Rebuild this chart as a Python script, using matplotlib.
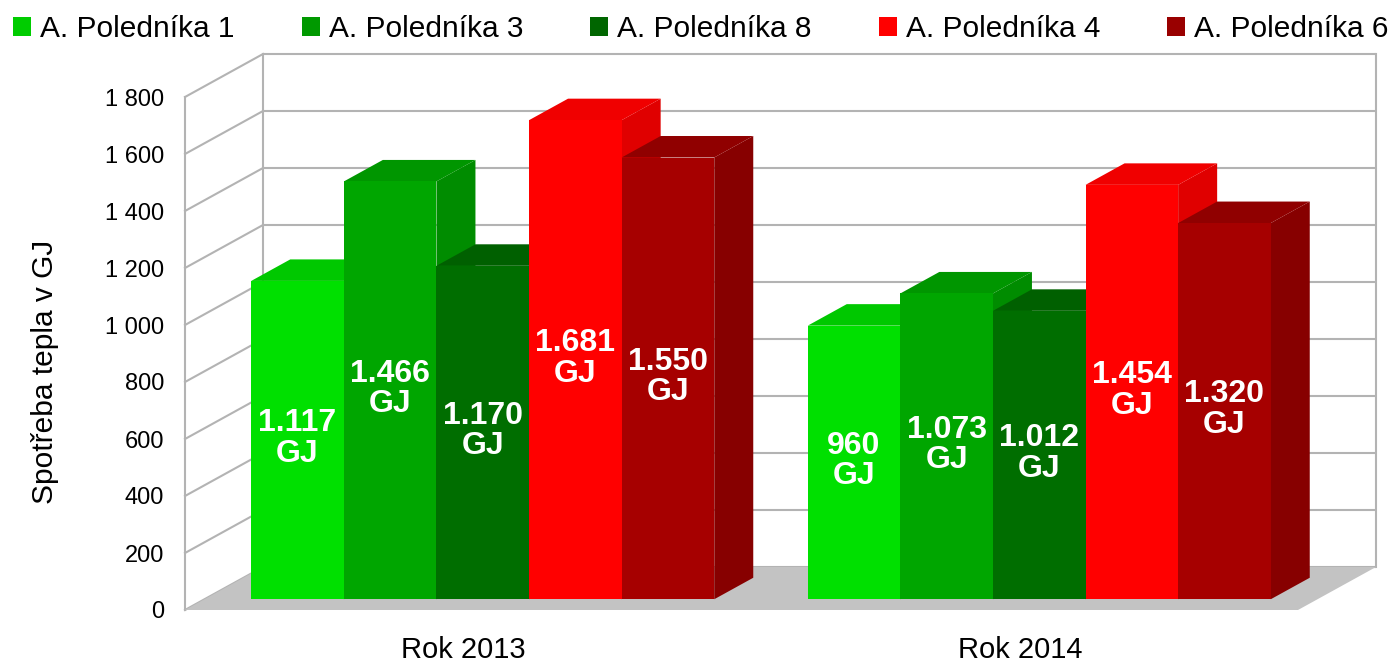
import matplotlib
matplotlib.use("Agg")
import matplotlib.pyplot as plt
from matplotlib.patches import Polygon, Patch

plt.rcParams['font.family'] = ['Liberation Sans', 'DejaVu Sans']

# ---- data ----
categories = ["Rok 2013", "Rok 2014"]
series_names = ["A. Poledníka 1", "A. Poledníka 3", "A. Poledníka 8",
                "A. Poledníka 4", "A. Poledníka 6"]
values_2013 = [1117, 1466, 1170, 1681, 1550]
values_2014 = [960, 1073, 1012, 1454, 1320]
value_labels_2013 = ["1.117\nGJ", "1.466\nGJ", "1.170\nGJ", "1.681\nGJ", "1.550\nGJ"]
value_labels_2014 = ["960\nGJ", "1.073\nGJ", "1.012\nGJ", "1.454\nGJ", "1.320\nGJ"]
y_ticks = [0, 200, 400, 600, 800, 1000, 1200, 1400, 1600, 1800]
y_label = "Spotřeba tepla v GJ"

# ---- styles ----
front_colors = ['#00e000', '#00a600', '#006e00', '#ff0000', '#a60000']
top_colors = ['#00c800', '#009600', '#006000', '#f00000', '#900000']
side_colors = ['#00b400', '#008c00', '#005800', '#e00000', '#870000']
legend_colors = ['#00cc00', '#009900', '#006600', '#ff0000', '#990000']
grid_color = '#b3b3b3'
floor_color = '#c3c3c3'

W, H = 1388, 664
fig = plt.figure(figsize=(W / 100, H / 100), dpi=100)
ax = fig.add_axes([185 / W, 54 / H, 1113 / W, 513 / H])
ymax = y_ticks[-1]
ax.set_xlim(0, len(categories))
ax.set_ylim(0, ymax)

# depth vector (full depth) in data units
px_per_x = 1113 / len(categories)
px_per_y = 513 / ymax
DX = 78 / px_per_x
DY = 43 / px_per_y
d0, d1 = 0.25, 0.75
n_series = len(series_names)
group_frac = 0.832
bw = group_frac / n_series
gap = (1 - group_frac) / 2
ncat = len(categories)

# floor
ax.add_patch(Polygon([(0, 0), (ncat, 0), (ncat + DX, DY), (DX, DY)],
                     closed=True, facecolor=floor_color, edgecolor='none',
                     clip_on=False, zorder=1))
# walls gridlines
for v in y_ticks:
    ax.plot([DX, ncat + DX], [v + DY, v + DY], color=grid_color, lw=1.5,
            clip_on=False, zorder=0.5, solid_capstyle='butt')
    ax.plot([0, DX], [v, v + DY], color=grid_color, lw=1.5,
            clip_on=False, zorder=0.5)
for xe, ye in [(0, 0), (DX, DY), (ncat + DX, DY)]:
    ax.plot([xe, xe], [ye, ye + ymax], color=grid_color, lw=1.5,
            clip_on=False, zorder=0.5)

# bars
all_vals = [values_2013, values_2014]
all_labels = [value_labels_2013, value_labels_2014]
z = 2
for ci, vals in enumerate(all_vals):
    for j, h in enumerate(vals):
        L = ci + gap + j * bw
        R = L + bw
        side = [(R + d0 * DX, d0 * DY), (R + d1 * DX, d1 * DY),
                (R + d1 * DX, h + d1 * DY), (R + d0 * DX, h + d0 * DY)]
        top = [(L + d0 * DX, h + d0 * DY), (R + d0 * DX, h + d0 * DY),
               (R + d1 * DX, h + d1 * DY), (L + d1 * DX, h + d1 * DY)]
        front = [(L + d0 * DX, d0 * DY), (R + d0 * DX, d0 * DY),
                 (R + d0 * DX, h + d0 * DY), (L + d0 * DX, h + d0 * DY)]
        ax.add_patch(Polygon(side, closed=True, facecolor=side_colors[j],
                             edgecolor='none', clip_on=False, zorder=z))
        ax.add_patch(Polygon(top, closed=True, facecolor=top_colors[j],
                             edgecolor='none', clip_on=False, zorder=z))
        ax.add_patch(Polygon(front, closed=True, facecolor=front_colors[j],
                             edgecolor='none', clip_on=False, zorder=z))
        z += 1
for ci, labs in enumerate(all_labels):
    for j, lab in enumerate(labs):
        L = ci + gap + j * bw
        h = all_vals[ci][j]
        ax.text(L + bw / 2 + d0 * DX, h / 2 + d0 * DY + 5, lab,
                ha='center', va='center', color='white', fontsize=23,
                fontweight='bold', linespacing=1.02, zorder=50, clip_on=False)

# axes
for s in ax.spines.values():
    s.set_visible(False)
ax.set_yticks(y_ticks)
ax.set_yticklabels([f"{v:,}".replace(",", " ") for v in y_ticks], fontsize=17)
ax.tick_params(axis='y', length=0, pad=15)
ax.set_xticks([i + 0.5 for i in range(ncat)])
ax.set_xticklabels(categories, fontsize=21)
ax.tick_params(axis='x', length=0, pad=19)
ax.patch.set_visible(False)

fig.text(45 / W, 1 - 372 / H, y_label, rotation=90, ha='center', va='center',
         fontsize=21.5)

handles = [Patch(facecolor=c, edgecolor='none') for c in legend_colors]
fig.legend(handles, series_names, loc='center', bbox_to_anchor=(701 / W, 1 - 29 / H),
           ncol=5, frameon=False, fontsize=21.5, handlelength=0.6,
           handleheight=0.6, handletextpad=0.3, columnspacing=2.25,
           borderaxespad=0, borderpad=0)

fig.savefig("out.png", dpi=100)
